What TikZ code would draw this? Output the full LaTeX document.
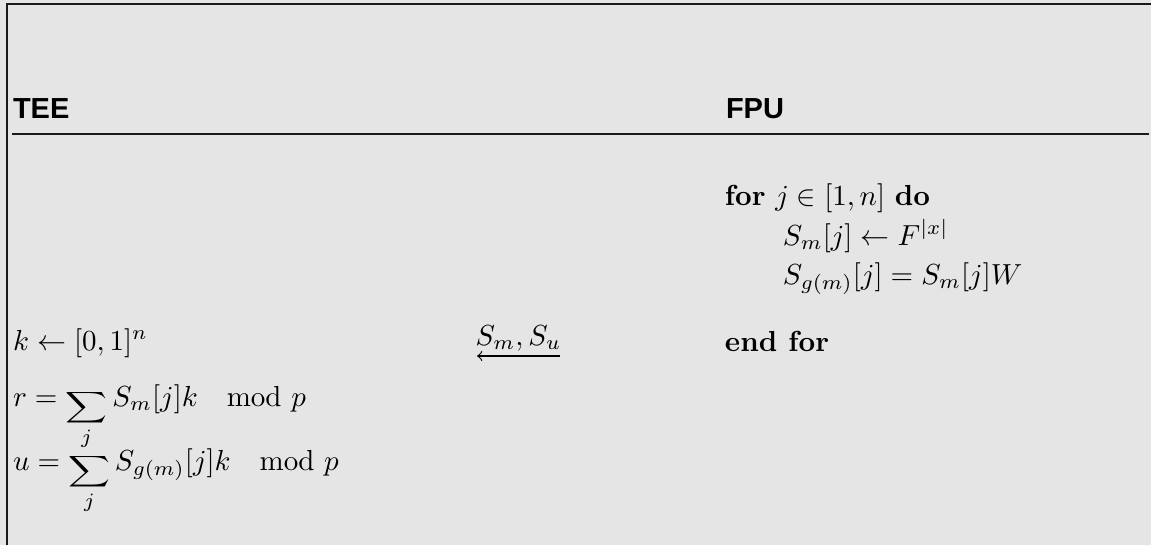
\documentclass[tikz,border=0pt]{standalone}
\usepackage{amsmath}
\usepackage{graphicx}
\usepackage{fontspec}
\newfontfamily\hvfont{Liberation Sans}
\definecolor{bggray}{HTML}{E5E5E5}
\definecolor{rulecol}{HTML}{1A1A1A}
\newcommand{\flatsum}{\mathop{\raisebox{-2.5pt}{\scalebox{1}[0.75]{$\displaystyle\sum$}}}\limits}
\newcommand{\wmod}{\mkern18mu\mathrm{mod}\,\,}
\tikzset{
  txt/.style={anchor=base west, inner sep=0pt, outer sep=0pt},
  head/.style={txt, font=\hvfont\bfseries},
  frameline/.style={draw=rulecol, line width=0.7pt},
  sepline/.style={draw=rulecol, line width=0.5pt},
  msgarrow/.style={draw=black, line width=0.4pt, <-}
}
\begin{document}
\begin{tikzpicture}[x=0.3448pt, y=-0.3448pt]
  \fill[bggray] (0,0) rectangle (1151,545);
  \useasboundingbox (0,0) rectangle (1151,545);
  % frame
  \coordinate (tl) at (7,4);
  \coordinate (tr) at (1151,4);
  \coordinate (bl) at (7,545);
  \draw[frameline] (tr) -- (tl) -- (bl);
  \coordinate (sl) at (12,134);
  \coordinate (sr) at (1149,134);
  \draw[sepline] (sl) -- (sr);
  % headings
  \node[head] (tee) at (13,118) {TEE};
  \node[head] (fpu) at (726,118) {FPU};
  % right column
  \node[txt] (for) at (725,205) {\textbf{for} $j \in [1,n]$ \textbf{do}};
  \node[txt] (l1) at (783,245) {$S_m[j] \leftarrow F^{|x|}$};
  \node[txt] (l2) at (783,284) {$S_{g(m)}[j] = S_m[j]W$};
  \node[txt] (endfor) at (725,351) {\textbf{end for}};
  % left column
  \node[txt] (k) at (13,350) {$k \leftarrow [0,1]^n$};
  \node[txt] (r) at (13,406) {$r = \flatsum_j S_m[j]k \wmod p$};
  \node[txt] (u) at (13,470) {$u = \flatsum_j S_{g(m)}[j]k \wmod p$};
  % message
  \coordinate (ma) at (477,356);
  \coordinate (mb) at (560,356);
  \draw[msgarrow] (ma) -- (mb);
  \node[txt, anchor=base] (msg) at (518.5,345) {$S_m, S_u$};
\end{tikzpicture}
\end{document}
